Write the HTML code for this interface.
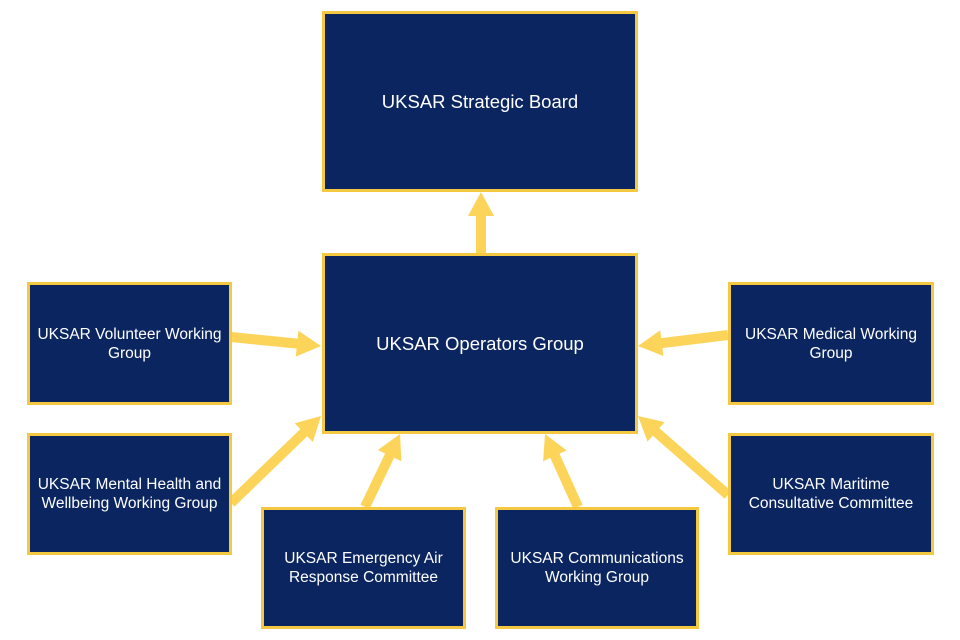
<!DOCTYPE html>
<html><head><style>
body{margin:0;background:#fff;width:960px;height:640px;overflow:hidden;font-family:"Liberation Sans",sans-serif}
.b{position:absolute;box-sizing:border-box;background:#0a2560;border:3px solid #f5c842;color:#fff;display:flex;align-items:center;justify-content:center;text-align:center;font-size:15.5px;line-height:19px}
.big{font-size:18.5px}
</style></head><body>
<svg width="960" height="640" style="position:absolute;left:0;top:0">
<g fill="#fcd45a">
<polygon points="486,254 486,216 494,216 481,192 468,216 476,216 476,254"/>
<polygon points="230.5,342 296.6,348.6 295.8,356.6 321,346 298.4,330.7 297.6,338.6 231.5,332"/>
<polygon points="234.5,506.6 307.2,436.3 312.8,442 321,416 294.7,423.3 300.3,429.1 227.5,499.4"/>
<polygon points="369.5,509.2 394.1,457.8 401.4,461.3 400,434 377.9,450 385.1,453.5 360.5,504.8"/>
<polygon points="582.6,504.9 559.5,453.8 566.7,450.5 545,434 543.1,461.2 550.3,457.9 573.4,509.1"/>
<polygon points="727.4,330 661.2,338.1 660.2,330.2 638,346 663.4,356 662.4,348.1 728.6,340"/>
<polygon points="731.3,491.2 659.3,428.1 664.6,422.1 638,416 647.5,441.6 652.7,435.6 724.7,498.8"/>
</g></svg>
<div class="b big" style="left:322px;top:11px;width:316px;height:181px">UKSAR Strategic Board</div>
<div class="b big" style="left:322px;top:253px;width:316px;height:181px">UKSAR Operators Group</div>
<div class="b" style="left:27px;top:282px;width:205px;height:123px">UKSAR Volunteer Working<br>Group</div>
<div class="b" style="left:27px;top:433px;width:205px;height:122px">UKSAR Mental Health and<br>Wellbeing Working Group</div>
<div class="b" style="left:261px;top:507px;width:205px;height:122px">UKSAR Emergency Air<br>Response Committee</div>
<div class="b" style="left:495px;top:507px;width:204px;height:122px">UKSAR Communications<br>Working Group</div>
<div class="b" style="left:728px;top:282px;width:206px;height:123px">UKSAR Medical Working<br>Group</div>
<div class="b" style="left:728px;top:433px;width:206px;height:122px">UKSAR Maritime<br>Consultative Committee</div>
</body></html>
